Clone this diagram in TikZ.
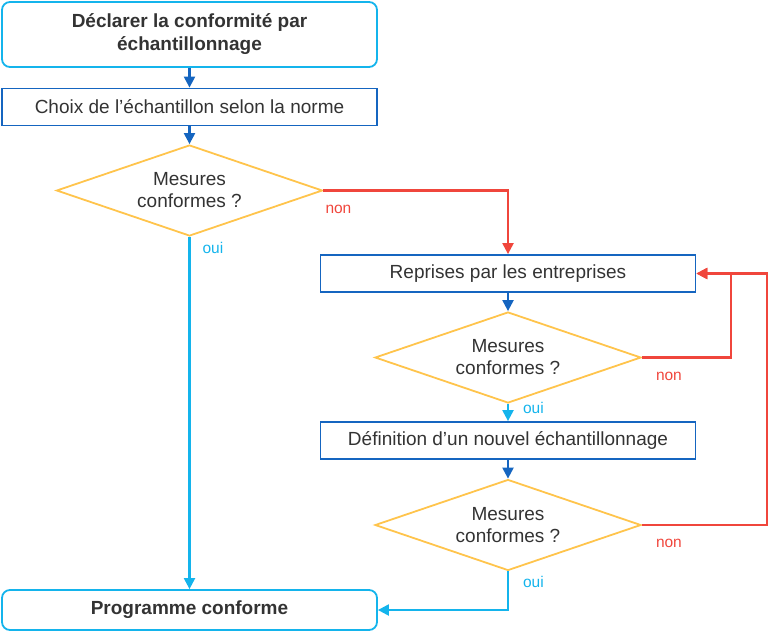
\documentclass[tikz,border=0pt]{standalone}
\usepackage{fontspec}
\setmainfont{Liberation Sans}
\usetikzlibrary{shapes.geometric,arrows.meta,positioning}
\definecolor{ciel}{HTML}{14B4EC}
\definecolor{bleu}{HTML}{1565C0}
\definecolor{jaune}{HTML}{FFC44C}
\definecolor{rouge}{HTML}{F0463C}
\definecolor{texte}{HTML}{333333}
\begin{document}
\begin{tikzpicture}[x=1pt,y=-1pt,
  box/.style={rectangle,draw=bleu,line width=1.8pt,minimum width=375pt,minimum height=37pt,inner sep=0pt,text=texte,font=\fontsize{19}{23}\selectfont},
  endbox/.style={box,draw=ciel,rounded corners=8pt,align=center,font=\fontsize{19}{23}\selectfont\bfseries},
  test/.style={diamond,draw=jaune,line width=1.8pt,minimum width=266pt,minimum height=91pt,aspect=2.92,inner sep=0pt,text=texte,align=center,font=\fontsize{19}{22}\selectfont},
  flow/.style={draw=bleu,line width=2.2pt,-{Triangle[length=11pt,width=11pt]}},
  ouiline/.style={draw=ciel,line width=2.2pt,-{Triangle[length=11pt,width=11pt]}},
  nonline/.style={draw=rouge,line width=2.2pt,-{Triangle[length=11pt,width=11pt]}},
  lab/.style={inner sep=0pt,anchor=base west,font=\fontsize{15.5}{18}\selectfont}]
\useasboundingbox (0,0) rectangle (768,633);

\node[endbox,minimum height=65pt] at (189.5,34.5) (start) {Déclarer la conformité par\\échantillonnage};
\node[box] at (189.5,107) (choix) {Choix de l’échantillon selon la norme};
\node[test] at (189.5,190.5) (t1) {Mesures\\conformes ?};
\node[box] at (508,273.5) (reprises) {Reprises par les entreprises};
\node[test] at (508,357.5) (t2) {Mesures\\conformes ?};
\node[box] at (508,440.5) (nouvel) {Définition d’un nouvel échantillonnage};
\node[test] at (508,525) (t3) {Mesures\\conformes ?};
\node[endbox,minimum height=40pt] at (189.5,610) (fin) {Programme conforme};

\coordinate (r1) at (731,273.5);
\coordinate (r2) at (767,273.5);

\draw[flow] (start) -- (choix);
\draw[flow] (choix) -- (t1);
\draw[flow] (reprises) -- (t2);
\draw[flow] (nouvel) -- (t3);

\draw[nonline] (t1.east) node[lab,text=rouge,xshift=1pt,yshift=-23pt] {non} -| (reprises.north);
\draw[nonline] (t2.east) node[lab,text=rouge,xshift=13pt,yshift=-23pt] {non} -| (r1) -- (reprises.east);
\draw[nonline] (t3.east) node[lab,text=rouge,xshift=13pt,yshift=-22pt] {non} -| (r2) -- (reprises.east);

\draw[ouiline] (t1.south) node[lab,text=ciel,xshift=12pt,yshift=-17pt] {oui} -- (fin.north);
\draw[ouiline] (t2.south) node[lab,text=ciel,xshift=14pt,yshift=-10pt] {oui} -- (nouvel.north);
\draw[ouiline] (t3.south) node[lab,text=ciel,xshift=14pt,yshift=-16pt] {oui} |- (fin.east);
\end{tikzpicture}
\end{document}
